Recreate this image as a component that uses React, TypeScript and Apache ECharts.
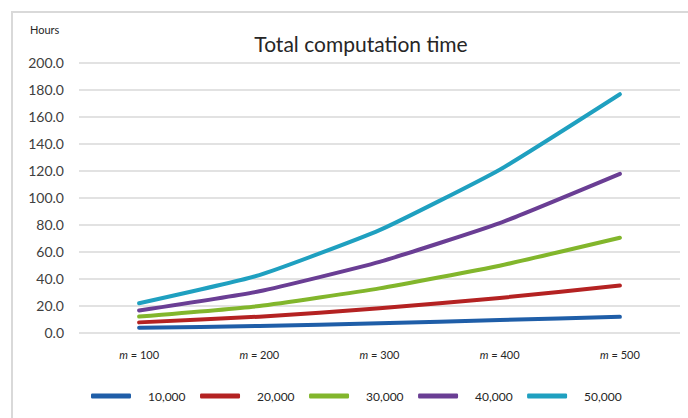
import React, { useEffect, useRef } from "react";
import * as echarts from "echarts";

const categories = ["100", "200", "300", "400", "500"];
const seriesNames = ["10,000", "20,000", "30,000", "40,000", "50,000"];
const s10000 = [3.5, 4.8, 6.8, 9.2, 11.6];
const s20000 = [7.5, 11.7, 17.9, 25.6, 34.8];
const s30000 = [11.8, 19.6, 32.7, 49.5, 70.2];
const s40000 = [16.3, 30.5, 52.3, 81.0, 117.5];
const s50000 = [21.7, 42.5, 75.8, 120.6, 176.5];
const seriesValues = [s10000, s20000, s30000, s40000, s50000];
const colors = ["#1f5ea8", "#b42222", "#82b62c", "#6a3e94", "#1fa0c0"];
const yTicks = { min: 0, max: 200, interval: 20 };

const FONT = "Lato, 'Open Sans', sans-serif";

export default function App() {
  const ref = useRef<HTMLDivElement>(null);
  useEffect(() => {
    if (!ref.current) return;
    const chart = echarts.init(ref.current, null, { renderer: "svg" });
    chart.setOption({
      animation: false,
      backgroundColor: "#ffffff",
      title: {
        text: "Total computation time",
        left: 356,
        top: 28,
        textAlign: "center",
        textStyle: { fontFamily: FONT, fontSize: 21, fontWeight: "normal", color: "#262626" },
      },
      graphic: [
        {
          type: "rect",
          shape: { x: 12, y: 12, width: 720, height: 440 },
          style: { fill: "none", stroke: "#d9d9d9", lineWidth: 2 },
          silent: true,
        },
        {
          type: "text",
          x: 30,
          y: 24,
          style: { text: "Hours", fontFamily: FONT, fontSize: 11, fill: "#262626" },
        },
      ],
      grid: { left: 79, right: 8, top: 62.5, bottom: 85.5, containLabel: false },
      legend: {
        left: 86,
        top: 385,
        icon: "roundRect",
        itemWidth: 40,
        itemHeight: 5,
        itemGap: 14.5,
        data: seriesNames,
        textStyle: {
          fontFamily: FONT,
          fontSize: 12,
          color: "#262626",
          padding: [0, 0, 0, 12],
          width: 36,
        },
      },
      xAxis: {
        type: "category",
        data: categories,
        boundaryGap: true,
        axisLine: { show: false },
        axisTick: { show: false },
        axisLabel: {
          margin: 16,
          formatter: (v: string) => "{i|m} = " + v,
          fontFamily: FONT,
          fontSize: 11,
          color: "#262626",
          rich: {
            i: { fontStyle: "italic", fontFamily: FONT, fontSize: 11, color: "#262626" },
          },
        },
      },
      yAxis: {
        type: "value",
        min: yTicks.min,
        max: yTicks.max,
        interval: yTicks.interval,
        axisLine: { show: false },
        axisTick: { show: false },
        axisLabel: {
          margin: 15,
          formatter: (v: number) => v.toFixed(1),
          fontFamily: FONT,
          fontSize: 14,
          color: "#404040",
        },
        splitLine: { lineStyle: { color: "#d9d9d9", width: 1.5 } },
      },
      series: seriesNames.map((name, i) => ({
        name,
        type: "line",
        data: seriesValues[i],
        smooth: 0.15,
        symbol: "none",
        color: colors[i],
        lineStyle: { width: 4, color: colors[i], cap: "round", join: "round" },
        itemStyle: { color: colors[i] },
      })),
    });
    return () => chart.dispose();
  }, []);
  return (
    <div
      ref={ref}
      style={{ position: "fixed", left: 0, top: 0, width: 688, height: 418 }}
    />
  );
}
